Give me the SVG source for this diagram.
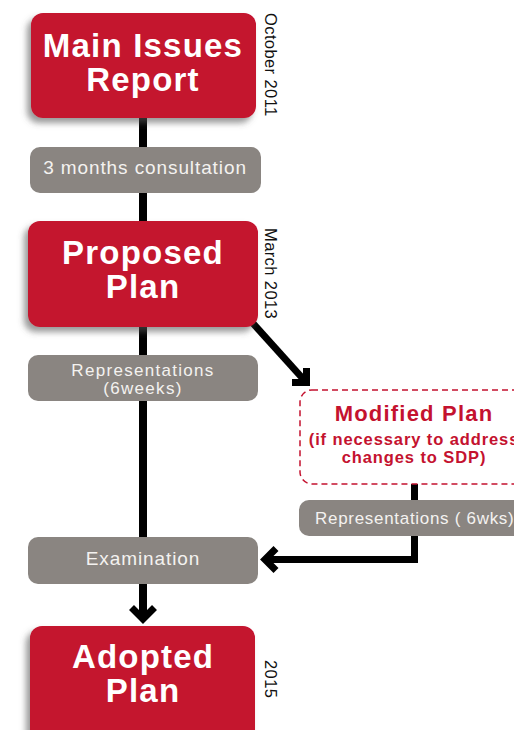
<svg xmlns="http://www.w3.org/2000/svg" width="514" height="730" viewBox="0 0 514 730">
<defs>
<filter id="sh" x="-20%" y="-20%" width="140%" height="150%">
<feDropShadow dx="-4" dy="5" stdDeviation="3" flood-color="#555" flood-opacity="0.6"/>
</filter>
<style>
.red{fill:#c4122f;filter:url(#sh)}
.gray{fill:#8a8581}
.rt{font-family:"Liberation Sans",Arial,sans-serif;font-weight:bold;font-size:33px;fill:#fff;text-anchor:middle;letter-spacing:1.2px}
.gt{font-family:"Liberation Sans",Arial,sans-serif;font-size:19px;fill:#f4f2f0;text-anchor:middle;letter-spacing:0.9px}
.dt{font-family:"Liberation Sans",Arial,sans-serif;font-size:16.5px;fill:#111;letter-spacing:0.4px}
.mt{font-family:"Liberation Sans",Arial,sans-serif;font-weight:bold;fill:#c4122f;text-anchor:middle}
.ln{fill:none;stroke:#000;stroke-width:7}
.hd{fill:none;stroke:#000;stroke-width:7;stroke-linejoin:miter}
</style>
</defs>
<rect width="514" height="730" fill="#fff"/>
<g id="connectors">
<line class="ln" x1="143" y1="110" x2="143" y2="618" style="stroke-width:8"/>
<polyline class="hd" points="131.5,607.5 143,619 154.5,607.5"/>
<line class="ln" x1="250" y1="320" x2="305" y2="381"/>
<polyline class="hd" points="292,382.5 306.5,382.5 306.5,368"/>
<polyline class="ln" points="414.5,484 414.5,559.5 266,559.5"/>
<polyline class="hd" points="276,548.5 265,559.5 276,570.5"/>
</g>
<g id="main-issues">
<rect class="red" x="31" y="13" width="225" height="105" rx="12"/>
<text class="rt" x="143" y="57">Main Issues</text>
<text class="rt" x="143" y="91">Report</text>
</g>
<g id="date-oct">
<text class="dt" transform="translate(265,13) rotate(90)">October 2011</text>
</g>
<g id="consultation">
<rect class="gray" x="30" y="147" width="231" height="46" rx="10"/>
<text class="gt" x="145" y="174">3 months consultation</text>
</g>
<g id="proposed">
<rect class="red" x="28" y="221" width="230" height="106" rx="12"/>
<text class="rt" x="143" y="264">Proposed</text>
<text class="rt" x="143" y="298">Plan</text>
</g>
<g id="date-mar">
<text class="dt" transform="translate(265,228) rotate(90)">March 2013</text>
</g>
<g id="representations">
<rect class="gray" x="28" y="355" width="230" height="46" rx="10"/>
<text class="gt" x="143" y="376" style="font-size:17px;letter-spacing:1.3px">Representations</text>
<text class="gt" x="143" y="394" style="font-size:17px;letter-spacing:1.3px">(6weeks)</text>
</g>
<g id="modified">
<rect x="300" y="390" width="228" height="94" rx="12" fill="#fff" stroke="#c4122f" stroke-width="1.5" stroke-dasharray="6,4"/>
<text class="mt" x="414" y="421" style="font-size:22px;letter-spacing:1.2px">Modified Plan</text>
<text class="mt" x="414" y="445" style="font-size:16.5px;letter-spacing:0.9px">(if necessary to address</text>
<text class="mt" x="414" y="463" style="font-size:16.5px;letter-spacing:0.9px">changes to SDP)</text>
</g>
<g id="representations-6wks">
<rect class="gray" x="299" y="500" width="230" height="36" rx="10"/>
<text class="gt" x="315" y="524" style="font-size:17px;letter-spacing:0.7px;text-anchor:start">Representations ( 6wks)</text>
</g>
<g id="examination">
<rect class="gray" x="28" y="537" width="230" height="47" rx="10"/>
<text class="gt" x="143" y="565">Examination</text>
</g>
<g id="adopted">
<rect class="red" x="30" y="626" width="225" height="120" rx="12"/>
<text class="rt" x="143" y="668">Adopted</text>
<text class="rt" x="143" y="702">Plan</text>
</g>
<g id="date-2015">
<text class="dt" transform="translate(265,660) rotate(90)">2015</text>
</g>
</svg>
